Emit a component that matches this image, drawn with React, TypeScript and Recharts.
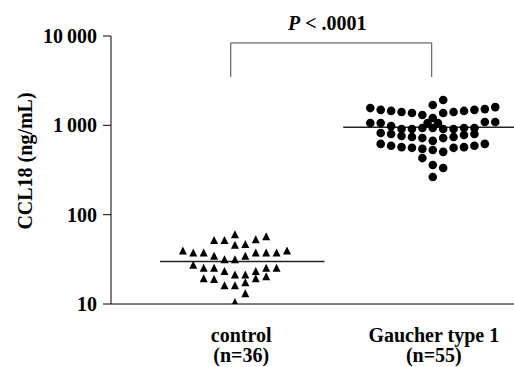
import React from 'react';
import { ScatterChart, Scatter, XAxis, YAxis, ReferenceLine, Label } from 'recharts';

// Column offsets (jitter columns) and CCL18 values (ng/mL)
const controlCols = [0, -2, -1, 2, 3, 0, 1, -5, -4, -3, -2, -1, 0, 1, 2, 3, 4, 5, -4, -3, -2, -1, 0, 1, 2, 3, 4, -3, -2, -1, 0, 1, 2, 3, 1, 0];
const controlValues = [59, 51, 51, 52, 56, 45, 46, 39, 37, 37, 34, 31, 31, 34, 37, 37, 37, 39, 27, 25, 25, 23, 21, 21, 23, 25, 25, 19, 18.6, 15.9, 15.9, 17.2, 19, 20, 12.9, 10.3];

const gaucherCols = [
  1, 0, -6, -5, -4, -3, -2, -1, 0, 1, 2, 3, 4, 5, 6,
  -6, -5, -4, -0.5, 0.5, 5, 6,
  -3, -2, -1, 0, 1, 2, 3, 4,
  -5, -4, -3, -2, -1, 0, 1, 2, 3, 4,
  -5, -4, -3, -2, -1, 0, 1, 2, 3, 4, 5,
  -1, 0, 1, 0,
];
const gaucherValues = [
  1920, 1690, 1560, 1490, 1450, 1410, 1375, 1305, 1210, 1375, 1410, 1450, 1490, 1520, 1600,
  1060, 1060, 980, 1060, 1060, 1090, 1090,
  910, 910, 935, 935, 910, 910, 935, 935,
  820, 800, 760, 740, 720, 670, 720, 740, 780, 800,
  620, 590, 570, 560, 545, 530, 505, 560, 570, 590, 620,
  430, 360, 333, 264,
];

const medians = [30, 950];
const groupNames = ['control', 'Gaucher type 1'];
const groupCounts = ['(n=36)', '(n=55)'];
const yTicks = [10, 100, 1000, 10000];
const pText = '< .0001';

// layout (column units)
const CONTROL_POS = 0;
const GAUCHER_POS = 19;
const X_DOMAIN = [-11.9, 26.8];
const LABEL_POS = [0.6, 19.1];

const controlData = controlCols.map((c, i) => ({ x: CONTROL_POS + c, y: controlValues[i] }));
const gaucherData = gaucherCols.map((c, i) => ({ x: GAUCHER_POS + c, y: gaucherValues[i] }));

const FONT = '"Liberation Serif", "Times New Roman", serif';

const Triangle = (props: any) => {
  const { cx, cy } = props;
  const h = 8;
  const w = 8;
  return (
    <polygon
      points={`${cx},${cy - h * 0.6} ${cx - w / 2},${cy + h * 0.4} ${cx + w / 2},${cy + h * 0.4}`}
      fill="#000"
    />
  );
};

const Dot = (props: any) => {
  const { cx, cy } = props;
  return <circle cx={cx} cy={cy} r={4.3} fill="#000" />;
};

const fmt = (v: number) => {
  if (v >= 1000) {
    const s = String(v);
    return s.slice(0, s.length - 3) + '\u2009' + s.slice(s.length - 3);
  }
  return String(v);
};

const XTick = (props: any) => {
  const { x, y, payload } = props;
  const idx = LABEL_POS.indexOf(payload.value);
  return (
    <text x={x} y={y} textAnchor="middle" fontFamily={FONT} fontWeight="bold" fontSize={20} fill="#000">
      <tspan x={x} dy={30}>{groupNames[idx]}</tspan>
      <tspan x={x} dy={20}>{groupCounts[idx]}</tspan>
    </text>
  );
};

const PLabel = (props: any) => {
  const vb = props.viewBox || {};
  const cx = vb.x + vb.width / 2 - 4;
  return (
    <text x={cx} y={vb.y - 13} textAnchor="middle" fontFamily={FONT} fontWeight="bold" fontSize={20} fill="#000">
      <tspan fontStyle="italic">P</tspan>
      <tspan> {pText}</tspan>
    </text>
  );
};

const YLabel = () => (
  <text
    x={32}
    y={161}
    transform="rotate(-90 32 161)"
    textAnchor="middle"
    fontFamily={FONT}
    fontWeight="bold"
    fontSize={20}
    fill="#000"
  >
    CCL18 (ng/mL)
  </text>
);

const BR_LEFT = -0.4;
const BR_RIGHT = 18.9;
const BR_TOP = 8360;
const BR_BOTTOM = 3475;

export default function App() {
  return (
    <div style={{ position: 'absolute', left: 0, top: 0, width: 514, height: 367, background: '#fff' }}>
      <ScatterChart width={514} height={367} margin={{ top: 36, right: 0, bottom: 0, left: 0 }}>
        <XAxis
          type="number"
          dataKey="x"
          domain={X_DOMAIN}
          ticks={LABEL_POS}
          tickLine={false}
          tick={<XTick />}
          height={63}
          stroke="#000"
          allowDataOverflow
        />
        <YAxis
          type="number"
          dataKey="y"
          scale="log"
          domain={[10, 10000]}
          ticks={yTicks}
          tickFormatter={fmt}
          width={111}
          tickSize={8}
          tickMargin={6}
          stroke="#000"
          tick={{ fill: '#000', fontFamily: FONT, fontWeight: 'bold', fontSize: 20 }}
          allowDataOverflow
          label={<YLabel />}
        />
        <ReferenceLine
          segment={[{ x: -7.2, y: medians[0] }, { x: 8.6, y: medians[0] }]}
          stroke="#222"
          strokeWidth={1.5}
        />
        <ReferenceLine
          segment={[{ x: 10.4, y: medians[1] }, { x: 26.8, y: medians[1] }]}
          stroke="#222"
          strokeWidth={1.5}
        />
        <ReferenceLine segment={[{ x: BR_LEFT, y: BR_BOTTOM }, { x: BR_LEFT, y: BR_TOP }]} stroke="#444" strokeWidth={1} />
        <ReferenceLine segment={[{ x: BR_RIGHT, y: BR_BOTTOM }, { x: BR_RIGHT, y: BR_TOP }]} stroke="#444" strokeWidth={1} />
        <ReferenceLine
          segment={[{ x: BR_LEFT, y: BR_TOP }, { x: BR_RIGHT, y: BR_TOP }]}
          stroke="#444"
          strokeWidth={1}
          label={<Label content={<PLabel />} />}
        />
        <Scatter data={controlData} shape={<Triangle />} isAnimationActive={false} />
        <Scatter data={gaucherData} shape={<Dot />} isAnimationActive={false} />
      </ScatterChart>
    </div>
  );
}
